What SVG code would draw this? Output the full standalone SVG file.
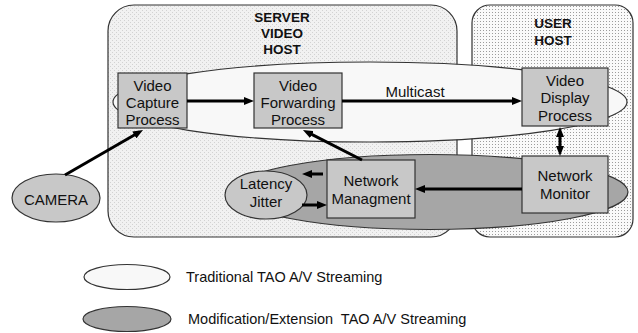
<svg xmlns="http://www.w3.org/2000/svg" width="638" height="333" viewBox="0 0 638 333">
<style>
text{font-family:"Liberation Sans",Arial,sans-serif;font-size:15px;fill:#111;text-anchor:middle}
.hl{font-weight:bold;font-size:13.5px}
.lg{font-size:14.5px;text-anchor:start;white-space:pre}
.box{fill:#c8c8c8;stroke:#333;stroke-width:1.2}
.ell{stroke:#333;stroke-width:1.2}
.host{stroke:#333;stroke-width:1.2}
.arr{stroke:#000;stroke-width:3;fill:none;marker-end:url(#ah)}
</style>
<defs>
<pattern id="pS" width="4" height="4" patternUnits="userSpaceOnUse"><rect width="4" height="4" fill="#f1f1f1"/><path d="M0 0h1v1h-1zM2 2h1v1h-1z" fill="#d2d2d2"/></pattern>
<pattern id="pU" width="3" height="3" patternUnits="userSpaceOnUse"><rect width="3" height="3" fill="#fafafa"/><rect width="1" height="1" fill="#9c9c9c"/></pattern>
<marker id="ah" markerUnits="userSpaceOnUse" markerWidth="10" markerHeight="8" refX="4" refY="4" orient="auto-start-reverse"><path d="M0,0 L10,4 L0,8 z" fill="#000"/></marker>
</defs>
<g id="server-host"><rect class="host" x="108" y="5" width="349" height="232" rx="26" fill="url(#pS)"/>
<text class="hl" x="282" y="22">SERVER</text><text class="hl" x="282" y="38">VIDEO</text><text class="hl" x="282" y="54">HOST</text></g>
<g id="user-host"><rect class="host" x="472" y="5" width="161" height="232" rx="18" fill="url(#pU)"/>
<text class="hl" x="553" y="28">USER</text><text class="hl" x="553" y="45">HOST</text></g>
<g id="traditional-region"><ellipse class="ell" cx="370" cy="102" rx="257" ry="40" fill="#f8f8f8"/></g>
<g id="extension-region"><ellipse class="ell" cx="430" cy="192" rx="198" ry="37.5" fill="#a6a6a6"/></g>
<g id="camera"><ellipse class="ell" cx="56" cy="198" rx="44" ry="24" fill="#c8c8c8"/><text x="56" y="205">CAMERA</text></g>
<g id="latency-jitter"><ellipse class="ell" cx="266" cy="195" rx="41" ry="24" fill="#c8c8c8"/><text x="266" y="189">Latency</text><text x="266" y="207">Jitter</text></g>
<g id="video-capture"><rect class="box" x="118" y="73" width="69" height="55"/><text x="152.5" y="91">Video</text><text x="152.5" y="108">Capture</text><text x="152.5" y="125">Process</text></g>
<g id="video-forwarding"><rect class="box" x="254" y="73" width="88" height="55"/><text x="298" y="91">Video</text><text x="298" y="108">Forwarding</text><text x="298" y="125">Process</text></g>
<g id="video-display"><rect class="box" x="522" y="68" width="86" height="58"/><text x="565" y="86">Video</text><text x="565" y="103">Display</text><text x="565" y="121">Process</text></g>
<g id="network-monitor"><rect class="box" x="522" y="156" width="86" height="57"/><text x="565" y="181">Network</text><text x="565" y="199">Monitor</text></g>
<g id="network-managment"><rect class="box" x="327" y="160" width="88" height="58"/><text x="371" y="186">Network</text><text x="371" y="204">Managment</text></g>
<g id="connectors">
<path class="arr" d="M187 101 L248 101"/>
<path class="arr" d="M342 101 L516 101"/>
<text x="415" y="97">Multicast</text>
<path class="arr" d="M560 133 L560 150" style="marker-start:url(#ah)"/>
<path class="arr" d="M522 189 L421 189"/>
<path class="arr" d="M362 160 L308.3 132.7"/>
<path class="arr" d="M65 175 L137.8 133"/>
<path class="arr" d="M323 174 L308 174"/>
<path class="arr" d="M302 205 L321 205"/>
</g>
<g id="legend">
<ellipse class="ell" cx="127" cy="277" rx="43" ry="12.5" fill="#f8f8f8"/>
<text class="lg" x="186" y="282">Traditional TAO A/V Streaming</text>
<ellipse class="ell" cx="127" cy="319" rx="44" ry="12.5" fill="#a6a6a6"/>
<text class="lg" x="188" y="324">Modification/Extension  TAO A/V Streaming</text>
</g>
</svg>
